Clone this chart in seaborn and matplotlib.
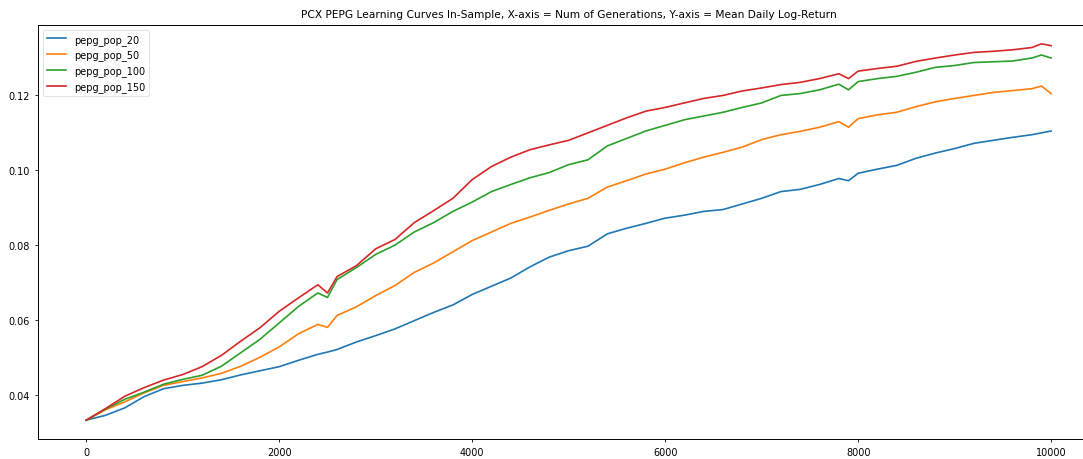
import matplotlib
matplotlib.use("Agg")
import matplotlib.pyplot as plt
import seaborn as sns
import pandas as pd

generations = [0, 200, 400, 600, 800, 1000, 1200, 1400, 1600, 1800,
               2000, 2200, 2400, 2500, 2600, 2800, 3000, 3200, 3400, 3600,
               3800, 4000, 4200, 4400, 4600, 4800, 5000, 5200, 5400, 5600,
               5800, 6000, 6200, 6400, 6600, 6800, 7000, 7200, 7400, 7600,
               7800, 7900, 8000, 8200, 8400, 8600, 8800, 9000, 9200, 9400,
               9600, 9800, 9900, 10000]

pepg_pop_20 = [0.0332, 0.0345, 0.0365, 0.0395, 0.0416, 0.0425, 0.0431, 0.0440, 0.0453, 0.0464,
               0.0475, 0.0492, 0.0508, 0.0514, 0.0521, 0.0541, 0.0558, 0.0576, 0.0598, 0.0620,
               0.0640, 0.0668, 0.0690, 0.0712, 0.0742, 0.0768, 0.0785, 0.0797, 0.0830, 0.0845,
               0.0858, 0.0872, 0.0880, 0.0890, 0.0895, 0.0910, 0.0925, 0.0943, 0.0949, 0.0962,
               0.0978, 0.0972, 0.0992, 0.1003, 0.1013, 0.1032, 0.1046, 0.1058, 0.1072, 0.1080,
               0.1088, 0.1095, 0.1100, 0.1105]

pepg_pop_50 = [0.0332, 0.0360, 0.0381, 0.0405, 0.0425, 0.0435, 0.0445, 0.0457, 0.0476, 0.0500,
               0.0528, 0.0563, 0.0588, 0.0580, 0.0612, 0.0635, 0.0665, 0.0692, 0.0727, 0.0752,
               0.0782, 0.0812, 0.0835, 0.0858, 0.0875, 0.0893, 0.0910, 0.0925, 0.0955, 0.0972,
               0.0990, 0.1003, 0.1020, 0.1035, 0.1048, 0.1062, 0.1082, 0.1095, 0.1104, 0.1115,
               0.1130, 0.1115, 0.1138, 0.1148, 0.1155, 0.1170, 0.1183, 0.1192, 0.1200, 0.1208,
               0.1213, 0.1218, 0.1225, 0.1205]

pepg_pop_100 = [0.0332, 0.0362, 0.0388, 0.0407, 0.0428, 0.0441, 0.0452, 0.0476, 0.0512, 0.0548,
                0.0592, 0.0636, 0.0672, 0.0660, 0.0708, 0.0740, 0.0775, 0.0800, 0.0835, 0.0860,
                0.0890, 0.0915, 0.0943, 0.0962, 0.0980, 0.0994, 0.1015, 0.1028, 0.1065, 0.1085,
                0.1105, 0.1120, 0.1135, 0.1145, 0.1155, 0.1168, 0.1180, 0.1200, 0.1205, 0.1215,
                0.1230, 0.1215, 0.1237, 0.1245, 0.1251, 0.1262, 0.1275, 0.1280, 0.1288, 0.1290,
                0.1292, 0.1300, 0.1308, 0.1300]

pepg_pop_150 = [0.0332, 0.0363, 0.0396, 0.0419, 0.0439, 0.0454, 0.0475, 0.0505, 0.0543, 0.0579,
                0.0623, 0.0659, 0.0694, 0.0672, 0.0716, 0.0745, 0.0790, 0.0815, 0.0860, 0.0892,
                0.0925, 0.0975, 0.1010, 0.1035, 0.1055, 0.1068, 0.1080, 0.1100, 0.1120, 0.1140,
                0.1158, 0.1168, 0.1180, 0.1192, 0.1200, 0.1212, 0.1220, 0.1229, 0.1235, 0.1245,
                0.1258, 0.1245, 0.1265, 0.1272, 0.1278, 0.1291, 0.1300, 0.1308, 0.1315, 0.1318,
                0.1322, 0.1328, 0.1338, 0.1333]

series_names = ["pepg_pop_20", "pepg_pop_50", "pepg_pop_100", "pepg_pop_150"]
series_values = [pepg_pop_20, pepg_pop_50, pepg_pop_100, pepg_pop_150]

rows = []
for name, vals in zip(series_names, series_values):
    for g, v in zip(generations, vals):
        rows.append({"generation": g, "value": v, "series": name})
df = pd.DataFrame(rows)

colors = ["#1f77b4", "#ff7f0e", "#2ca02c", "#d62728"]

fig = plt.figure(figsize=(10.83, 4.6), dpi=100)
# the reference is cropped on the right: axes extend past the image edge
ax = fig.add_axes([0.0351, 0.0435, 0.98, 0.9])
sns.lineplot(data=df, x="generation", y="value", hue="series",
             hue_order=series_names, palette=colors, linewidth=1.2, ax=ax)
ax.set_xlabel("")
ax.set_ylabel("")
ax.set_xticks([0, 2000, 4000, 6000, 8000, 10000])
ax.set_yticks([0.04, 0.06, 0.08, 0.10, 0.12])
ax.set_yticklabels(["0.04", "0.06", "0.08", "0.10", "0.12"])
ax.tick_params(labelsize=7, length=2.5, width=0.6)
for s in ax.spines.values():
    s.set_linewidth(0.7)
ax.spines["right"].set_visible(False)
ax.set_title("PCX PEPG Learning Curves In-Sample, X-axis = Num of Generations, Y-axis = Mean Daily Log-Return",
             fontsize=7.7)
leg = ax.legend(loc="upper left", fontsize=7, handlelength=2.0)
leg.get_frame().set_linewidth(0.5)
fig.savefig("out.png", dpi=100)
